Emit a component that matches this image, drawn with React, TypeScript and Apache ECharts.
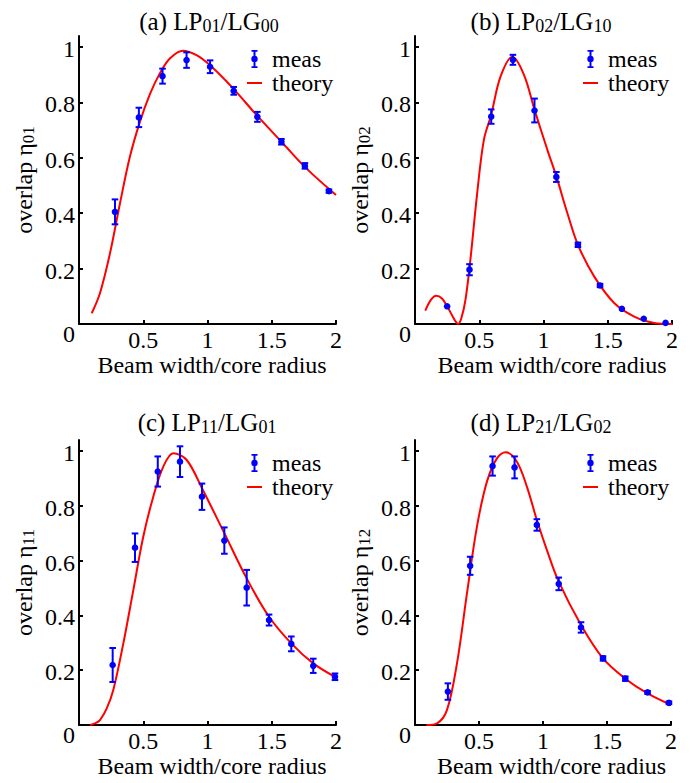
import React, { useEffect, useRef } from 'react';
import * as echarts from 'echarts';

const FONT = 'Liberation Serif';
const BLUE = '#0000ff';
const RED = '#ff0000';

// tick values
const xTicks = [0.5, 1, 1.5, 2];
const yTicks = [0, 0.2, 0.4, 0.6, 0.8, 1];

// ---------- (a) LP01/LG00 ----------
const measXA = [0.28, 0.466, 0.65, 0.837, 1.02, 1.204, 1.388, 1.575, 1.758, 1.945];
const measYA = [0.405, 0.746, 0.895, 0.953, 0.929, 0.842, 0.748, 0.658, 0.571, 0.48];
const measEA = [0.045, 0.035, 0.027, 0.028, 0.023, 0.014, 0.018, 0.01, 0.01, 0.006];
const theoryXA = [0.099, 0.163, 0.241, 0.319, 0.396, 0.474, 0.552, 0.629, 0.707, 0.81, 0.914, 1.018, 1.199, 1.381, 1.588, 1.769, 2.0];
const theoryYA = [0.039, 0.111, 0.255, 0.436, 0.604, 0.73, 0.83, 0.905, 0.959, 0.987, 0.971, 0.935, 0.851, 0.755, 0.652, 0.562, 0.466];

// ---------- (b) LP02/LG10 ----------
const measXB = [0.25, 0.424, 0.593, 0.762, 0.93, 1.1, 1.268, 1.44, 1.61, 1.78, 1.95];
const measYB = [0.064, 0.196, 0.749, 0.954, 0.771, 0.531, 0.286, 0.139, 0.055, 0.019, 0.004];
const measEB = [0, 0.02, 0.026, 0.018, 0.043, 0.018, 0.008, 0.006, 0, 0, 0];
const theoryXB = [0.08, 0.125, 0.166, 0.21, 0.25, 0.29, 0.315, 0.335, 0.36, 0.393, 0.431, 0.484, 0.536, 0.593, 0.666, 0.757, 0.848, 0.93, 1.03, 1.1, 1.186, 1.268, 1.394, 1.55, 1.706, 1.862, 2.0];
const theoryYB = [0.048, 0.088, 0.102, 0.092, 0.064, 0.03, 0.01, 0.0, 0.02, 0.088, 0.232, 0.473, 0.665, 0.756, 0.894, 0.965, 0.9, 0.774, 0.629, 0.533, 0.4, 0.286, 0.172, 0.076, 0.027, 0.004, 0.0];

// ---------- (c) LP11/LG01 ----------
const measXC = [0.262, 0.436, 0.613, 0.786, 0.957, 1.131, 1.305, 1.479, 1.652, 1.823, 1.992];
const measYC = [0.219, 0.647, 0.925, 0.961, 0.833, 0.673, 0.501, 0.383, 0.296, 0.216, 0.176];
const measEC = [0.062, 0.052, 0.055, 0.056, 0.048, 0.048, 0.065, 0.02, 0.027, 0.026, 0.012];
const theoryXC = [0.086, 0.125, 0.163, 0.215, 0.267, 0.345, 0.423, 0.5, 0.578, 0.656, 0.734, 0.838, 0.957, 1.131, 1.305, 1.479, 1.652, 1.823, 1.992];
const theoryYC = [0.0, 0.006, 0.018, 0.06, 0.128, 0.298, 0.493, 0.687, 0.833, 0.943, 0.992, 0.967, 0.864, 0.7, 0.535, 0.395, 0.298, 0.225, 0.176];

// ---------- (d) LP21/LG02 ----------
const measXD = [0.257, 0.431, 0.606, 0.778, 0.952, 1.123, 1.297, 1.469, 1.643, 1.817, 1.984];
const measYD = [0.122, 0.581, 0.945, 0.94, 0.73, 0.515, 0.356, 0.243, 0.169, 0.119, 0.081];
const measED = [0.03, 0.033, 0.035, 0.04, 0.021, 0.023, 0.019, 0.008, 0.008, 0.005, 0.005];
const theoryXD = [0.088, 0.172, 0.25, 0.328, 0.406, 0.484, 0.562, 0.64, 0.71, 0.796, 0.874, 0.952, 1.03, 1.123, 1.297, 1.469, 1.643, 1.817, 2.0];
const theoryYD = [0.0, 0.006, 0.055, 0.225, 0.48, 0.724, 0.888, 0.973, 0.995, 0.961, 0.87, 0.748, 0.639, 0.523, 0.365, 0.243, 0.169, 0.115, 0.073];

// texts
const titles = ['(a) LP{s|01}/LG{s|00}', '(b) LP{s|02}/LG{s|10}', '(c) LP{s|11}/LG{s|01}', '(d) LP{s|21}/LG{s|02}'];
const yNames = ['overlap η{s|01}', 'overlap η{s|02}', 'overlap η{s|11}', 'overlap η{s|12}'];
const xName = 'Beam width/core radius';

const measData = [
  [measXA, measYA, measEA],
  [measXB, measYB, measEB],
  [measXC, measYC, measEC],
  [measXD, measYD, measED],
];
const theoryData = [
  [theoryXA, theoryYA],
  [theoryXB, theoryYB],
  [theoryXC, theoryYC],
  [theoryXD, theoryYD],
];

// layout (pixels)
const layout = [
  { grid: { left: 79, top: 36, width: 257, height: 288 }, titleX: 209, titleY: 21, legLeft: 247, legTop: 47, nameShift: 9 },
  { grid: { left: 415, top: 36, width: 257, height: 288 }, titleX: 541, titleY: 21, legLeft: 583, legTop: 47, nameShift: 17 },
  { grid: { left: 79, top: 440, width: 257, height: 285 }, titleX: 207, titleY: 422, legLeft: 247, legTop: 451, nameShift: 9 },
  { grid: { left: 415, top: 440, width: 256, height: 285 }, titleX: 541, titleY: 422, legLeft: 583, legTop: 451, nameShift: 17 },
];

const MEAS_ICON =
  'path://M0,0 M20,18 M6.5,0 L8.5,0 L8.5,18 L6.5,18 Z M4.5,0 L10.5,0 L10.5,1.8 L4.5,1.8 Z M4.5,16.2 L10.5,16.2 L10.5,18 L4.5,18 Z M4.3,9 A3.2,3.2 0 1,1 10.7,9 A3.2,3.2 0 1,1 4.3,9 Z';
const THEORY_ICON = 'path://M0,0 M20,18 M0,8 L15,8 L15,10 L0,10 Z';

const CSS = `#chart-root svg text, #chart-root svg tspan { font-family: "Liberation Serif", "Times New Roman", serif !important; }`;

export default function App() {
  const ref = useRef<HTMLDivElement>(null);
  useEffect(() => {
    document.body.style.margin = '0';
    if (!ref.current) return;
    const chart = echarts.init(ref.current, null, { renderer: 'svg' });
    const txt = { fontSize: 24, fontFamily: FONT, color: '#000' };

    const grids = layout.map((l) => ({ ...l.grid, containLabel: false }));
    const xAxes = layout.map((l, i) => ({
      type: 'value',
      gridIndex: i,
      min: 0,
      max: 2,
      interval: 0.5,
      axisLine: { show: true, onZero: false, lineStyle: { color: '#000', width: 2 } },
      axisTick: { show: true, inside: true, length: 4, customValues: xTicks, lineStyle: { color: '#000', width: 2 } },
      axisLabel: {
        ...txt,
        margin: 4,
        customValues: xTicks,
        formatter: (v: number) => (v === 0 ? '' : String(v)),
      },
      splitLine: { show: false },
      name: xName,
      nameLocation: 'middle',
      nameGap: 29,
      nameTextStyle: { ...txt, padding: [0, 0, 0, l.nameShift] },
    }));
    const yAxes = layout.map((l, i) => ({
      type: 'value',
      gridIndex: i,
      min: 0,
      max: 1.04,
      interval: 0.2,
      axisLine: { show: true, onZero: false, lineStyle: { color: '#000', width: 2 } },
      axisTick: { show: true, inside: true, length: 4, customValues: yTicks, lineStyle: { color: '#000', width: 2 } },
      axisLabel: {
        ...txt,
        margin: 4,
        customValues: yTicks,
        formatter: (v: number) => (v === 0 ? '{z|0}' : v > 1.001 ? '' : `{a|${v}}`),
        rich: { a: { ...txt, padding: [4, 0, 0, 0] }, z: { ...txt, padding: [20, 0, 0, 0] } },
      },
      splitLine: { show: false },
      name: yNames[i],
      nameLocation: 'middle',
      nameRotate: 90,
      nameGap: 42,
      nameTextStyle: {
        ...txt,
        rich: { s: { fontSize: 17, fontFamily: FONT, color: '#000', padding: [9, 0, 0, 0] } },
      },
    }));

    const series: any[] = [];
    layout.forEach((l, i) => {
      const [tx, ty] = theoryData[i];
      series.push({
        type: 'line',
        name: 'theory',
        xAxisIndex: i,
        yAxisIndex: i,
        data: tx.map((x, k) => [x, ty[k]]),
        showSymbol: false,
        smooth: 0.35,
        lineStyle: { color: RED, width: 2 },
        itemStyle: { color: RED },
        z: 2,
      });
      const [mx, my, me] = measData[i];
      series.push({
        type: 'custom',
        name: 'meas',
        xAxisIndex: i,
        yAxisIndex: i,
        data: mx.map((x, k) => [x, my[k], me[k]]),
        encode: { x: 0, y: 1 },
        itemStyle: { color: BLUE },
        z: 3,
        renderItem: (params: any, api: any) => {
          const x = api.value(0);
          const y = api.value(1);
          const e = api.value(2);
          const p = api.coord([x, y]);
          const children: any[] = [];
          if (e > 0) {
            const t = api.coord([x, y + e]);
            const b = api.coord([x, y - e]);
            const st = { stroke: BLUE, lineWidth: 2 };
            children.push({ type: 'line', shape: { x1: p[0], y1: t[1], x2: p[0], y2: b[1] }, style: st });
            children.push({ type: 'line', shape: { x1: p[0] - 3.3, y1: t[1], x2: p[0] + 3.3, y2: t[1] }, style: st });
            children.push({ type: 'line', shape: { x1: p[0] - 3.3, y1: b[1], x2: p[0] + 3.3, y2: b[1] }, style: st });
          }
          children.push({ type: 'circle', shape: { cx: p[0], cy: p[1], r: 3.3 }, style: { fill: BLUE } });
          return { type: 'group', children };
        },
      });
    });

    const legends = layout.map((l) => ({
      orient: 'vertical',
      left: l.legLeft,
      top: l.legTop,
      itemWidth: 20,
      itemHeight: 18,
      itemGap: 0,
      padding: 0,
      selectedMode: false,
      textStyle: { ...txt, lineHeight: 22 },
      data: [
        { name: 'meas', icon: MEAS_ICON, itemStyle: { color: BLUE, borderWidth: 0 } },
        { name: 'theory', icon: THEORY_ICON, itemStyle: { color: RED, borderWidth: 0 } },
      ],
    }));

    const graphic = layout.map((l, i) => ({
      type: 'text',
      x: l.titleX,
      y: l.titleY,
      style: {
        text: titles[i],
        fontSize: 25,
        fontFamily: FONT,
        fill: '#000',
        align: 'center',
        verticalAlign: 'middle',
        rich: { s: { fontSize: 18, fontFamily: FONT, fill: '#000', padding: [10, 0, 0, 0] } },
      },
    }));

    chart.setOption({
      animation: false,
      backgroundColor: '#fff',
      textStyle: { fontFamily: FONT, color: '#000' },
      grid: grids,
      xAxis: xAxes,
      yAxis: yAxes,
      legend: legends,
      series,
      graphic,
    });
    return () => chart.dispose();
  }, []);
  return (
    <div id="chart-root">
      <style>{CSS}</style>
      <div ref={ref} style={{ width: 694, height: 783 }} />
    </div>
  );
}
